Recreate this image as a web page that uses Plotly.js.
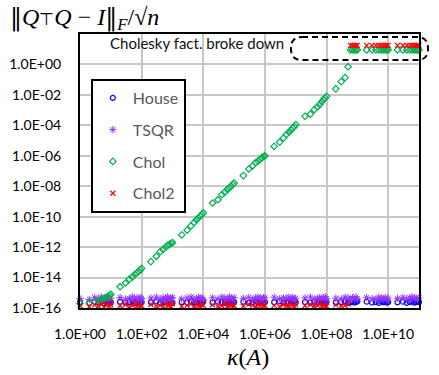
<!DOCTYPE html>
<html>
<head>
<meta charset="utf-8">
<script src="https://cdn.plot.ly/plotly-3.0.1.min.js"></script>
<style>html,body{margin:0;padding:0;background:#fff;}#chart{width:439px;height:375px;}</style>
</head>
<body>
<div id="chart"></div>
<script>
// condition numbers kappa(A)
const kappa = [1,
  2,3,4,5,6,7,8,9,10,
  20,30,40,50,60,70,80,90,100,
  200,300,400,500,600,700,800,900,1000,
  2e3,3e3,4e3,5e3,6e3,7e3,8e3,9e3,1e4,
  2e4,3e4,4e4,5e4,6e4,7e4,8e4,9e4,1e5,
  2e5,3e5,4e5,5e5,6e5,7e5,8e5,9e5,1e6,
  2e6,3e6,4e6,5e6,6e6,7e6,8e6,9e6,1e7,
  2e7,3e7,4e7,5e7,6e7,7e7,8e7,9e7,1e8,
  2e8,3e8,4e8,5e8,6e8,7e8,8e8,9e8,1e9,
  2e9,3e9,4e9,5e9,6e9,7e9,8e9,9e9,1e10,
  2e10,3e10,4e10,5e10,6e10,7e10,8e10,9e10,1e11];

const house = [2.5e-16,
  2.2e-16,2.6e-16,2.3e-16,2.7e-16,2.1e-16,2.5e-16,2.4e-16,2.8e-16,2.2e-16,
  2.6e-16,2.3e-16,2.5e-16,2.8e-16,2.2e-16,2.4e-16,2.7e-16,2.3e-16,2.5e-16,
  2.4e-16,2.7e-16,2.2e-16,2.5e-16,2.6e-16,2.3e-16,2.8e-16,2.4e-16,2.2e-16,
  2.5e-16,2.3e-16,2.7e-16,2.4e-16,2.2e-16,2.6e-16,2.5e-16,2.3e-16,2.8e-16,
  2.3e-16,2.6e-16,2.4e-16,2.2e-16,2.7e-16,2.5e-16,2.3e-16,2.6e-16,2.4e-16,
  2.6e-16,2.2e-16,2.5e-16,2.8e-16,2.3e-16,2.4e-16,2.7e-16,2.2e-16,2.5e-16,
  2.4e-16,2.7e-16,2.3e-16,2.5e-16,2.2e-16,2.6e-16,2.4e-16,2.8e-16,2.3e-16,
  2.5e-16,2.3e-16,2.6e-16,2.4e-16,2.7e-16,2.2e-16,2.5e-16,2.3e-16,2.6e-16,
  2.3e-16,2.5e-16,2.7e-16,2.2e-16,2.4e-16,2.6e-16,2.3e-16,2.5e-16,2.8e-16,
  2.6e-16,2.3e-16,2.5e-16,2.2e-16,2.7e-16,2.4e-16,2.6e-16,2.3e-16,2.5e-16,
  2.4e-16,2.6e-16,2.2e-16,2.5e-16,2.7e-16,2.3e-16,2.4e-16,2.6e-16,2.5e-16];

const tsqr = [4.2e-16,
  3.6e-16,4.8e-16,4.1e-16,5.3e-16,3.9e-16,4.5e-16,5.0e-16,3.7e-16,4.4e-16,
  4.9e-16,3.8e-16,4.3e-16,5.4e-16,4.0e-16,4.6e-16,3.6e-16,5.1e-16,4.2e-16,
  4.5e-16,5.2e-16,3.9e-16,4.7e-16,4.1e-16,5.5e-16,3.7e-16,4.4e-16,4.9e-16,
  4.0e-16,4.6e-16,5.3e-16,3.8e-16,4.3e-16,5.0e-16,4.1e-16,4.8e-16,3.6e-16,
  4.7e-16,3.9e-16,5.2e-16,4.4e-16,4.0e-16,5.5e-16,4.2e-16,3.7e-16,4.9e-16,
  4.3e-16,5.0e-16,3.8e-16,4.6e-16,5.4e-16,4.1e-16,3.6e-16,4.8e-16,4.5e-16,
  5.1e-16,4.0e-16,4.7e-16,3.9e-16,5.3e-16,4.2e-16,4.9e-16,3.7e-16,4.4e-16,
  4.6e-16,5.2e-16,3.8e-16,4.3e-16,5.0e-16,4.0e-16,4.7e-16,5.5e-16,4.1e-16,
  4.4e-16,3.9e-16,5.1e-16,4.6e-16,3.7e-16,4.8e-16,4.2e-16,5.3e-16,4.0e-16,
  4.8e-16,4.1e-16,3.8e-16,5.2e-16,4.5e-16,4.0e-16,4.9e-16,3.7e-16,4.4e-16,
  4.3e-16,5.0e-16,3.9e-16,4.6e-16,5.4e-16,4.1e-16,4.7e-16,3.8e-16,4.5e-16];

// Cholesky QR; 9 = factorization broke down (plotted at top)
const chol = [2.0e-16,
  2.1e-16,2.5e-16,3.0e-16,3.5e-16,4.2e-16,5.0e-16,5.6e-16,6.8e-16,7.9e-16,
  2.5e-15,4.4e-15,7.9e-15,1.1e-14,1.6e-14,2.0e-14,2.5e-14,3.2e-14,4.0e-14,
  1.1e-13,2.5e-13,5.0e-13,7.1e-13,1.0e-12,1.3e-12,1.5e-12,1.8e-12,2.0e-12,
  6.3e-12,1.3e-11,2.5e-11,4.0e-11,6.3e-11,8.3e-11,1.1e-10,1.4e-10,1.8e-10,
  7.9e-10,1.3e-9,2.8e-9,4.0e-9,6.3e-9,7.9e-9,1.0e-8,1.3e-8,1.6e-8,
  5.0e-8,1.35e-7,2.2e-7,3.5e-7,4.5e-7,6.0e-7,7.6e-7,8.9e-7,1.0e-6,
  4.1e-6,7.9e-6,1.45e-5,2.5e-5,3.5e-5,5.0e-5,6.6e-5,8.3e-5,1.1e-4,
  3.9e-4,5.5e-4,1.07e-3,1.6e-3,2.3e-3,3.5e-3,5.0e-3,6.3e-3,7.9e-3,
  2.5e-2,7.4e-2,1.35e-1,7.1e-1,9,9,9,9,9,
  9,9,9,9,9,9,9,9,9,
  9,9,9,9,9,9,9,9,9];

// CholeskyQR2; 18 = factorization broke down (plotted at top)
const chol2 = [1.4e-16,
  1.2e-16,1.6e-16,1.3e-16,1.8e-16,1.1e-16,1.5e-16,1.9e-16,1.3e-16,1.6e-16,
  1.4e-16,1.7e-16,1.2e-16,1.5e-16,1.9e-16,1.3e-16,1.6e-16,1.1e-16,1.4e-16,
  1.7e-16,1.3e-16,1.5e-16,1.2e-16,1.8e-16,1.4e-16,1.6e-16,1.2e-16,1.9e-16,
  1.3e-16,1.5e-16,1.8e-16,1.2e-16,1.6e-16,1.4e-16,1.1e-16,1.7e-16,1.5e-16,
  1.6e-16,1.2e-16,1.4e-16,1.9e-16,1.3e-16,1.5e-16,1.7e-16,1.2e-16,1.4e-16,
  1.3e-16,1.8e-16,1.5e-16,1.2e-16,1.6e-16,1.4e-16,1.9e-16,1.3e-16,1.5e-16,
  1.5e-16,1.2e-16,1.7e-16,1.4e-16,1.3e-16,1.8e-16,1.5e-16,1.2e-16,1.6e-16,
  1.4e-16,1.7e-16,1.3e-16,1.5e-16,1.9e-16,1.2e-16,1.6e-16,1.4e-16,1.3e-16,
  1.6e-16,1.3e-16,1.5e-16,1.8e-16,18,18,18,18,18,
  18,18,18,18,18,18,18,18,18,
  18,18,18,18,18,18,18,18,18];

const xTickVals = [1,1e2,1e4,1e6,1e8,1e10];
const xTickText = ["1.0E+00","1.0E+02","1.0E+04","1.0E+06","1.0E+08","1.0E+10"];
const yTickVals = [1e-16,1e-14,1e-12,1e-10,1e-8,1e-6,1e-4,1e-2,1];
const yTickText = ["1.0E-16","1.0E-14","1.0E-12","1.0E-10","1.0E-08","1.0E-06","1.0E-04","1.0E-02","1.0E+00"];

const traces = [
  {x: kappa, y: house, name: 'House', type: 'scatter', mode: 'markers', cliponaxis: false, legendgroup: 'a',
   marker: {symbol: 'circle-open', size: 5, color: '#0000ff', line: {width: 1.2}}},
  {x: kappa, y: tsqr, name: 'TSQR', type: 'scatter', mode: 'markers', cliponaxis: false, legendgroup: 'b',
   marker: {symbol: 'asterisk-open', size: 6, color: '#9933ff', line: {width: 1}}},
  {x: kappa, y: chol, name: 'Chol', type: 'scatter', mode: 'markers', cliponaxis: false, legendgroup: 'c',
   marker: {symbol: 'diamond-open', size: 5, color: '#00b050', line: {width: 1.2}}},
  {x: kappa, y: chol2, name: 'Chol2', type: 'scatter', mode: 'markers', cliponaxis: false, legendgroup: 'd',
   marker: {symbol: 'x-thin-open', size: 5, color: '#ff0000', line: {width: 1.2}}}
];

// rounded dashed box (paper coords)
const x0 = 0.6224, x1 = 1.0265, yt = 0.989, yb = 0.905, rx = 0.0325, ry = 0.040;
const boxPath = `M ${x0+rx},${yt} L ${x1-rx},${yt} Q ${x1},${yt} ${x1},${yt-ry} L ${x1},${yb+ry} Q ${x1},${yb} ${x1-rx},${yb} L ${x0+rx},${yb} Q ${x0},${yb} ${x0},${yb+ry} L ${x0},${yt-ry} Q ${x0},${yt} ${x0+rx},${yt} Z`;

const layout = {
  width: 439, height: 375,
  margin: {l: 80, r: 20, t: 34, b: 67},
  paper_bgcolor: '#ffffff', plot_bgcolor: '#ffffff',
  font: {family: 'Lato, sans-serif', size: 14, color: '#000'},
  showlegend: true,
  legend: {x: 0.032, y: 0.836, xanchor: 'left', yanchor: 'top', bgcolor: '#ffffff',
    bordercolor: '#000', borderwidth: 2, font: {family: 'Lato, sans-serif', size: 16, color: '#595959'},
    traceorder: 'grouped', tracegroupgap: 8, itemwidth: 30},
  xaxis: {type: 'log', range: [0, 11], tickvals: xTickVals, ticktext: xTickText,
    showgrid: true, gridcolor: '#c8c8c8', gridwidth: 2, zeroline: false,
    showline: true, linecolor: '#000', linewidth: 2, mirror: true, ticks: '',
    ticklabelstandoff: 12, tickfont: {family: 'Lato, sans-serif', size: 14}},
  yaxis: {type: 'log', range: [-16, 2], tickvals: yTickVals, ticktext: yTickText,
    showgrid: true, gridcolor: '#c8c8c8', gridwidth: 2, zeroline: false,
    showline: true, linecolor: '#000', linewidth: 2, mirror: true, ticks: '',
    ticklabelstandoff: 14, tickfont: {family: 'Lato, sans-serif', size: 14}},
  shapes: [
    {type: 'path', xref: 'paper', yref: 'paper', path: boxPath,
     line: {color: '#000', width: 2, dash: '6px,4px'}, fillcolor: 'rgba(0,0,0,0)'}
  ],
  annotations: [
    {xref: 'paper', yref: 'paper', x: -0.2124, y: 1.058, xanchor: 'left', yanchor: 'middle', showarrow: false,
     text: "<span style=\"font-family:'DejaVu Serif'\">‖</span><i>Q</i><span style=\"font-size:17px\">⊤</span><i>Q</i> − <i>I</i><span style=\"font-family:'DejaVu Serif'\">‖</span><sub><i>F</i></sub>/√<i>n</i>",
     font: {family: 'Liberation Serif, serif', size: 24, color: '#000'}},
    {xref: 'paper', yref: 'paper', x: 0.4956, y: -0.179, xanchor: 'center', yanchor: 'middle', showarrow: false,
     text: "<i>κ</i>(<i>A</i>)",
     font: {family: 'Liberation Serif, serif', size: 24, color: '#000'}},
    {xref: 'paper', yref: 'paper', x: 0.6077, y: 0.967, xanchor: 'right', yanchor: 'middle', showarrow: false,
     text: "Cholesky fact. broke down",
     font: {family: 'Lato, sans-serif', size: 15, color: '#111'}}
  ]
};

Plotly.newPlot('chart', traces, layout, {displayModeBar: false, staticPlot: true});
</script>
</body>
</html>
